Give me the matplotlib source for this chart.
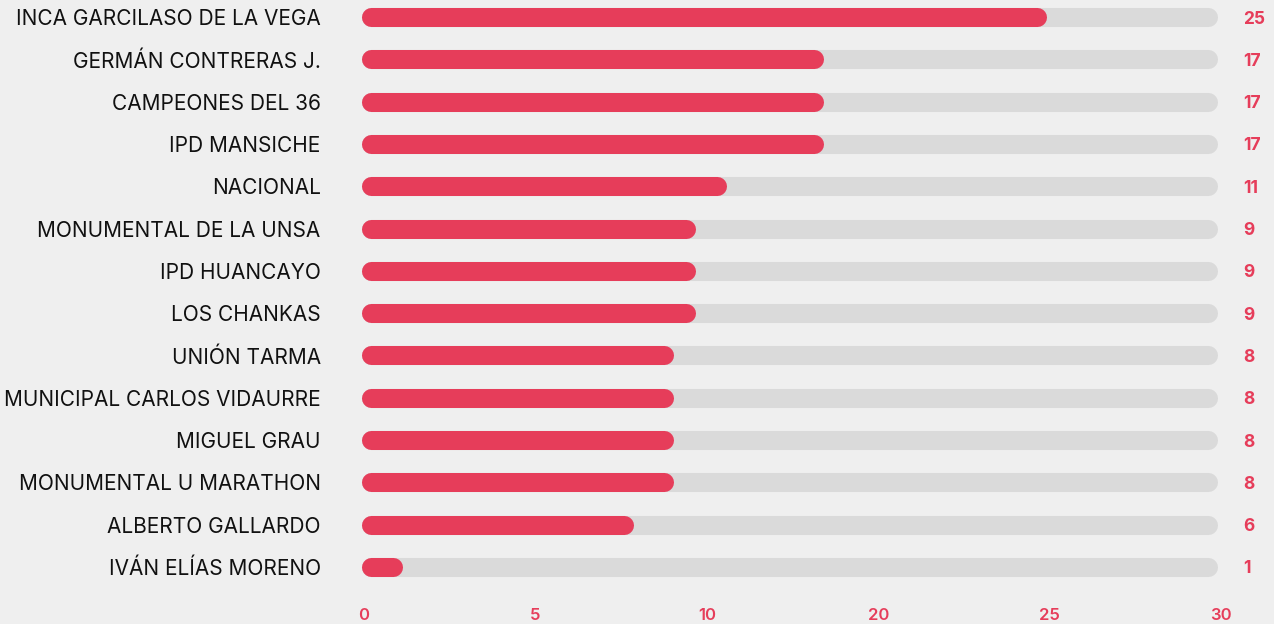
import matplotlib
matplotlib.use("Agg")
import matplotlib.pyplot as plt
from matplotlib.transforms import ScaledTranslation

estadios = ["INCA GARCILASO DE LA VEGA", "GERMÁN CONTRERAS J.", "CAMPEONES DEL 36",
            "IPD MANSICHE", "NACIONAL", "MONUMENTAL DE LA UNSA", "IPD HUANCAYO",
            "LOS CHANKAS", "UNIÓN TARMA", "MUNICIPAL CARLOS VIDAURRE", "MIGUEL GRAU",
            "MONUMENTAL U MARATHON", "ALBERTO GALLARDO", "IVÁN ELÍAS MORENO"]
valores = [25, 17, 17, 17, 11, 9, 9, 9, 8, 8, 8, 8, 6, 1]
# bar lengths as read against the 0-30 track
largos = [24.0, 16.2, 16.2, 16.2, 12.8, 11.7, 11.7, 11.7, 10.95, 10.95, 10.95, 10.95, 9.55, 1.45]
maximo = 30
ticks = [0, 6, 12, 18, 24, 30]
tick_labels = ["0", "5", "10", "20", "25", "30"]

rojo = "#e63d5a"
gris = "#dadada"
fondo = "#efefef"

plt.rcParams['font.family'] = ['Inter', 'DejaVu Sans']

fig = plt.figure(figsize=(12.74, 6.24), dpi=100, facecolor=fondo)
ax = fig.add_axes([361 / 1274, 1 - 590 / 624, 857 / 1274, 590 / 624])
ax.set_facecolor(fondo)
ax.set_xlim(0, maximo)
ax.set_ylim(13.546, -0.402)

lw = 13.7  # points
px_per_unit = 857 / maximo
r = (lw / 2 * fig.dpi / 72) / px_per_unit

for i, (v, l) in enumerate(zip(valores, largos)):
    ax.plot([r, maximo - r], [i, i], color=gris, lw=lw, solid_capstyle='round', zorder=1)
    ax.plot([r, l - r], [i, i], color=rojo, lw=lw, solid_capstyle='round', zorder=2)
    ax.text(30.87, i, str(v), color=rojo, fontsize=12.5, fontweight='bold',
            ha='left', va='center_baseline', clip_on=False)

ax.set_yticks(range(len(estadios)))
ax.set_yticklabels(estadios, fontsize=15, color="#111111")
ax.set_xticks(ticks)
ax.set_xticklabels(tick_labels, fontsize=12, color=rojo, fontweight='semibold')
ax.tick_params(axis='y', length=0, pad=29)
ax.tick_params(axis='x', length=0, pad=13)
desplaza = ScaledTranslation(3 / 100, 0, fig.dpi_scale_trans)
for t in ax.get_xticklabels():
    t.set_transform(t.get_transform() + desplaza)
for s in ax.spines.values():
    s.set_visible(False)

fig.savefig("out.png", dpi=100, facecolor=fondo)
